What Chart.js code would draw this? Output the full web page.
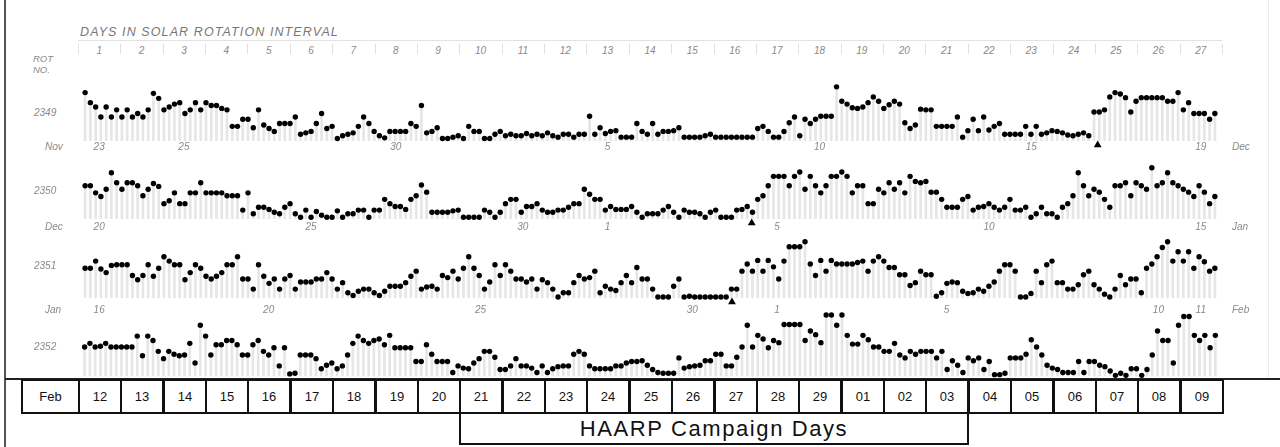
<!DOCTYPE html>
<html>
<head>
<meta charset="utf-8">
<script src="https://cdn.jsdelivr.net/npm/chart.js@4.4.0/dist/chart.umd.min.js"></script>
<style>
  body { margin:0; background:#fff; width:1280px; height:447px; overflow:hidden; position:relative;
         font-family:"Liberation Sans", Arial, sans-serif; }
  .t { position:absolute; font-style:italic; color:#8a8a8a; white-space:nowrap; line-height:1; }
  .ln { position:absolute; }
  .cell { position:absolute; box-sizing:border-box; border:2px solid #111; display:flex;
          align-items:center; justify-content:center; font-size:13px; color:#111; background:#fff; }
  canvas { position:absolute; }
</style>
</head>
<body>
<script>
// rotaciones de Bartels y Kp cada 3 horas (8 por dia, 27 dias)
const rotations = ['2349', '2350', '2351', '2352'];

const kp2349 = [
  6.7, 5.3, 4.7, 3.3, 4.7, 3.3, 4.3, 3.3,
  4.3, 3.3, 3.8, 3.3, 4.3, 6.6, 5.9, 4.3,
  4.7, 5.1, 5.3, 3.8, 4.3, 5.3, 4.3, 5.3,
  4.9, 4.9, 4.5, 4.3, 2.0, 2.0, 3.0, 3.0,
  1.8, 4.3, 2.2, 1.7, 1.3, 2.4, 2.4, 2.4,
  3.3, 0.9, 1.1, 1.3, 2.4, 3.8, 1.7, 2.0,
  0.3, 0.7, 0.9, 1.1, 2.0, 3.3, 2.4, 1.3,
  0.7, 0.4, 1.3, 1.3, 1.3, 1.3, 2.4, 2.0,
  4.9, 1.1, 1.3, 1.8, 0.3, 0.3, 0.5, 0.7,
  0.3, 2.0, 1.3, 1.3, 0.3, 0.3, 0.9, 1.3,
  0.7, 0.9, 0.7, 0.7, 1.0, 0.7, 0.9, 0.7,
  1.1, 0.7, 0.5, 0.9, 0.9, 0.5, 0.9, 0.9,
  3.4, 0.9, 1.8, 1.0, 1.3, 1.4, 0.5, 0.5,
  0.5, 2.4, 1.3, 0.9, 2.4, 0.9, 1.3, 1.3,
  1.4, 1.8, 0.5, 0.5, 0.5, 0.5, 0.7, 0.9,
  0.5, 0.5, 0.5, 0.5, 0.5, 0.5, 0.5, 0.5,
  1.7, 2.0, 1.3, 0.5, 0.5, 1.3, 2.5, 3.3,
  0.7, 3.0, 2.4, 3.0, 3.4, 3.4, 3.4, 7.5,
  5.5, 5.1, 4.6, 4.5, 4.7, 5.3, 6.1, 5.5,
  4.5, 5.0, 5.5, 5.1, 2.5, 1.7, 2.2, 4.4,
  4.3, 4.3, 2.0, 2.0, 2.0, 2.0, 3.3, 0.5,
  1.4, 3.0, 1.4, 3.3, 1.5, 2.0, 2.4, 0.9,
  0.9, 0.9, 0.9, 2.0, 0.9, 2.0, 0.9, 1.1,
  1.4, 1.3, 1.1, 0.8, 0.7, 0.9, 1.1, 0.7,
  4.0, 4.0, 4.3, 6.1, 6.7, 6.5, 6.0, 4.0,
  5.5, 6.0, 6.0, 6.0, 6.0, 6.0, 5.5, 5.5,
  6.7, 4.3, 5.3, 3.8, 3.8, 3.8, 3.0, 3.8,
];

const kp2350 = [
  4.6, 4.6, 3.6, 3.1, 4.1, 6.4, 5.0, 4.1,
  5.0, 5.0, 4.6, 3.2, 4.1, 4.9, 4.5, 2.1,
  2.5, 3.6, 2.1, 2.1, 3.6, 3.6, 5.0, 3.6,
  3.6, 3.6, 3.6, 3.2, 3.2, 3.2, 1.2, 3.6,
  0.7, 1.6, 1.6, 1.3, 0.9, 0.7, 1.6, 2.1,
  0.7, 0.2, 1.2, 0.2, 1.0, 0.5, 0.2, 0.2,
  1.1, 0.2, 0.7, 0.7, 1.2, 1.2, 0.2, 1.2,
  1.2, 2.7, 2.1, 1.7, 1.7, 1.3, 2.7, 3.2,
  4.7, 3.7, 0.9, 0.9, 0.9, 0.9, 1.1, 1.2,
  0.2, 0.2, 0.2, 0.2, 1.2, 0.9, 0.2, 0.9,
  2.1, 2.7, 2.7, 0.9, 1.7, 1.7, 2.1, 1.2,
  0.9, 0.9, 1.2, 1.2, 1.6, 2.1, 2.1, 4.1,
  3.4, 2.7, 2.7, 1.2, 1.7, 1.3, 1.3, 1.3,
  1.7, 0.9, 0.2, 0.7, 0.7, 0.7, 1.2, 1.7,
  0.9, 0.2, 1.2, 0.9, 0.9, 0.7, 0.2, 0.9,
  1.2, 0.2, 0.2, 0.2, 1.2, 1.3, 1.7, 0.9,
  2.7, 3.2, 4.6, 5.9, 5.9, 5.9, 4.6, 5.9,
  6.5, 4.1, 5.9, 4.6, 3.6, 4.6, 5.9, 5.9,
  6.5, 5.9, 3.6, 4.6, 4.6, 2.1, 2.1, 4.1,
  3.6, 5.0, 4.1, 5.0, 3.6, 5.9, 5.2, 5.0,
  5.2, 3.7, 3.7, 2.7, 1.6, 1.6, 1.6, 2.7,
  3.1, 1.2, 1.6, 1.7, 2.1, 1.6, 1.2, 1.6,
  2.7, 1.2, 1.2, 1.6, 0.2, 0.7, 1.6, 0.7,
  0.7, 0.2, 1.6, 2.1, 3.2, 6.4, 4.6, 3.2,
  4.1, 3.7, 2.7, 1.6, 4.6, 4.6, 5.0, 3.2,
  5.0, 4.6, 4.1, 7.1, 4.6, 5.0, 6.4, 5.0,
  4.6, 4.1, 3.7, 3.1, 4.6, 3.7, 2.1, 3.1,
];

const kp2351 = [
  4.1, 4.1, 5.1, 4.0, 3.5, 4.5, 4.6, 4.6,
  4.6, 3.1, 2.5, 3.1, 4.6, 3.0, 4.1, 5.7,
  5.1, 4.6, 4.6, 2.5, 3.5, 4.6, 4.1, 3.0,
  2.6, 3.0, 3.5, 4.6, 4.6, 5.7, 2.6, 2.6,
  1.2, 4.6, 3.0, 2.0, 2.6, 1.2, 2.6, 3.1,
  1.2, 2.2, 2.2, 2.2, 2.6, 2.6, 3.5, 2.6,
  1.2, 2.1, 0.7, 0.3, 0.9, 1.2, 1.2, 0.7,
  0.3, 0.9, 1.6, 1.6, 1.6, 2.1, 3.0, 3.7,
  1.2, 1.5, 1.6, 1.2, 3.1, 2.8, 3.7, 2.6,
  4.1, 5.7, 4.1, 3.1, 1.2, 2.2, 4.6, 3.1,
  4.6, 3.7, 2.6, 2.6, 2.2, 2.6, 1.2, 2.5,
  2.1, 1.2, 0.1, 0.7, 0.7, 2.1, 3.1, 2.6,
  2.8, 3.7, 0.7, 1.6, 1.2, 1.0, 2.1, 3.1,
  2.1, 4.2, 2.6, 2.6, 1.2, 0.1, 0.1, 0.1,
  1.6, 2.6, 0.1, 0.2, 0.1, 0.1, 0.1, 0.1,
  0.1, 0.1, 0.1, 1.2, 1.2, 3.7, 4.7, 3.7,
  5.2, 3.7, 5.2, 4.3, 2.6, 5.1, 7.1, 7.1,
  7.1, 7.8, 4.7, 3.1, 5.2, 3.7, 5.2, 4.7,
  4.7, 4.7, 4.7, 4.9, 5.1, 3.7, 5.1, 5.7,
  5.1, 4.2, 4.2, 3.2, 3.2, 1.7, 2.1, 3.7,
  3.2, 3.2, 0.2, 0.7, 2.0, 2.2, 2.1, 0.9,
  0.6, 0.7, 1.2, 0.9, 1.6, 2.2, 3.7, 4.6,
  4.6, 3.7, 0.1, 0.1, 0.6, 3.7, 2.1, 4.6,
  5.1, 2.1, 2.1, 1.2, 1.2, 1.8, 3.2, 3.7,
  1.8, 1.2, 0.5, 0.1, 1.2, 3.1, 1.8, 2.6,
  2.6, 0.7, 4.1, 4.7, 5.7, 7.0, 7.8, 5.1,
  6.4, 5.1, 6.4, 4.1, 5.7, 5.0, 3.7, 4.1,
];

const kp2352 = [
  4.0, 4.5, 4.0, 4.1, 4.5, 4.0, 4.0, 4.0,
  4.0, 4.0, 5.5, 2.8, 5.5, 4.9, 3.4, 2.4,
  3.4, 3.0, 2.8, 2.9, 4.5, 1.8, 7.0, 5.5,
  2.9, 4.3, 4.3, 4.9, 4.9, 4.3, 2.9, 2.9,
  4.3, 4.9, 3.4, 2.9, 3.9, 1.4, 3.9, 0.3,
  0.4, 2.9, 2.9, 2.9, 2.4, 1.0, 1.5, 1.8,
  1.0, 1.4, 2.9, 4.5, 5.5, 4.9, 4.5, 4.9,
  5.1, 4.3, 5.6, 3.9, 3.9, 3.9, 3.9, 2.0,
  2.0, 4.3, 3.0, 2.0, 2.0, 2.0, 0.5, 1.4,
  1.1, 1.0, 1.8, 2.4, 3.4, 3.4, 2.6, 0.9,
  0.9, 1.4, 2.4, 1.4, 1.4, 1.1, 0.5, 1.4,
  0.5, 1.0, 1.3, 1.4, 1.4, 3.0, 3.4, 3.0,
  1.4, 1.0, 1.0, 1.0, 1.0, 1.4, 1.4, 1.8,
  2.0, 2.0, 2.1, 1.5, 0.9, 0.5, 0.4, 0.4,
  0.4, 2.5, 1.1, 1.3, 1.4, 1.5, 2.1, 2.1,
  3.0, 3.0, 1.4, 1.4, 2.6, 4.0, 7.0, 4.0,
  5.6, 5.1, 3.9, 4.9, 4.6, 7.1, 7.1, 7.1,
  7.1, 4.9, 6.2, 5.7, 4.6, 8.4, 8.4, 7.0,
  8.4, 5.6, 4.4, 4.4, 5.6, 5.0, 4.0, 4.0,
  3.4, 3.4, 4.5, 2.9, 2.5, 3.4, 3.0, 3.4,
  3.4, 3.4, 2.5, 3.4, 0.9, 2.1, 1.5, 0.5,
  2.5, 2.1, 2.5, 0.9, 2.0, 0.2, 0.2, 0.4,
  2.5, 2.5, 2.5, 3.0, 5.0, 4.0, 2.9, 1.5,
  1.1, 0.9, 0.5, 0.5, 0.5, 2.0, 0.5, 2.0,
  2.0, 1.5, 1.3, 0.7, 0.1, 0.4, 0.1, 1.0,
  1.0, 0.1, 0.9, 2.9, 6.2, 4.9, 4.9, 1.8,
  7.0, 8.2, 8.2, 5.6, 4.9, 5.6, 3.9, 5.6,
];

// triangulos (posicion en dias desde el inicio de la rotacion)
const markers = [[24.15], [15.92], [15.45], []];

// etiquetas
const rotationDays = ['1','2','3','4','5','6','7','8','9','10','11','12','13','14','15','16','17','18','19','20','21','22','23','24','25','26','27'];
const dateTicks = [
  [[1,'23'],[3,'25'],[8,'30'],[13,'5'],[18,'10'],[23,'15'],[27,'19']],
  [[1,'20'],[6,'25'],[11,'30'],[13,'1'],[17,'5'],[22,'10'],[27,'15']],
  [[1,'16'],[5,'20'],[10,'25'],[15,'30'],[17,'1'],[21,'5'],[26,'10'],[27,'11']],
  [],
];
const leftMonths = ['Nov', 'Dec', 'Jan', ''];
const rightMonths = ['Dec', 'Jan', 'Feb', ''];
const tableDays = ['12','13','14','15','16','17','18','19','20','21','22','23','24','25','26','27','28','29','01','02','03','04','05','06','07','08','09'];
const campaign = ['21', '03'];

// layout
const X0 = 78, DAYW = 42.37, PXKP = 8;
const BASE = [144, 222, 301, 379];
const ROWLABEL_Y = [113, 191, 266, 347];
const DATE_Y = [147, 227, 310];

function text(str, x, y, size, extra) {
  const d = document.createElement('div');
  d.className = 't';
  d.textContent = str;
  d.style.fontSize = size + 'px';
  d.style.left = x + 'px';
  d.style.top = (y - size / 2) + 'px';
  if (extra) Object.assign(d.style, extra);
  document.body.appendChild(d);
  return d;
}
function centered(str, cx, cy, size) {
  const d = text(str, cx, cy, size);
  d.style.transform = 'translateX(-50%)';
}
function line(x, y, w, h, color) {
  const d = document.createElement('div');
  d.className = 'ln';
  Object.assign(d.style, {left: x + 'px', top: y + 'px', width: w + 'px', height: h + 'px', background: color});
  document.body.appendChild(d);
}

// encabezado
text('DAYS IN SOLAR ROTATION INTERVAL', 80, 32, 12.5, {letterSpacing: '1.1px', color: '#777'});
line(X0, 40, 27 * DAYW, 1, '#e2e2e2');
for (let d = 0; d <= 27; d++) line(Math.round(X0 + d * DAYW), 44, 1, 10, '#e0e0e0');
rotationDays.forEach((t, i) => centered(t, X0 + (i + 0.5) * DAYW, 51, 10));
text('ROT', 33, 59, 9.5);
text('NO.', 33, 70, 9.5);

// filas
function rowChart(i, values) {
  const c = document.createElement('canvas');
  const h = 11 * PXKP;
  c.width = Math.round(27 * DAYW);
  c.height = h;
  c.style.left = X0 + 'px';
  c.style.top = (BASE[i] - 9.5 * PXKP) + 'px';
  document.body.appendChild(c);
  const pts = values.map((v, k) => ({x: (k + 0.5) / 8, y: v}));
  new Chart(c, {
    data: {
      datasets: [
        {type: 'bar', data: pts, backgroundColor: '#e6e6e6', barThickness: 2, order: 3},
        {type: 'scatter', data: pts, pointRadius: 2.7, pointBackgroundColor: '#000',
         pointBorderWidth: 0, clip: false, order: 1},
        {type: 'scatter', data: markers[i].map(x => ({x: x, y: -0.6})), pointStyle: 'triangle',
         pointRadius: 4.5, pointBackgroundColor: '#000', pointBorderWidth: 0, clip: false, order: 0},
      ],
    },
    options: {
      responsive: false, animation: false, events: [],
      layout: {padding: 0},
      plugins: {legend: {display: false}, tooltip: {enabled: false}},
      scales: {
        x: {type: 'linear', min: 0, max: 27, offset: false, display: false},
        y: {type: 'linear', min: -1.5, max: 9.5, display: false},
      },
    },
  });
}

[kp2349, kp2350, kp2351, kp2352].forEach((vals, i) => {
  rowChart(i, vals);
  text(rotations[i], 34, ROWLABEL_Y[i], 10);
  if (leftMonths[i]) text(leftMonths[i], 45, DATE_Y[i], 10);
  if (rightMonths[i]) text(rightMonths[i], 1232, DATE_Y[i], 10);
  dateTicks[i].forEach(([d, t]) => centered(t, X0 + (d - 0.5) * DAYW, DATE_Y[i], 10));
});

// marco y tabla
line(4, 0, 2, 447, '#555');
line(5, 378, 1275, 2, '#222');
line(1268, 0, 1, 378, '#ececec');

function cell(str, x, y, w, h, size) {
  const d = document.createElement('div');
  d.className = 'cell';
  d.textContent = str;
  Object.assign(d.style, {left: x + 'px', top: y + 'px', width: w + 'px', height: h + 'px'});
  if (size) d.style.fontSize = size + 'px';
  document.body.appendChild(d);
  return d;
}
cell('Feb', 21, 379, X0 - 21 + 2, 35);
tableDays.forEach((t, i) => cell(t, Math.round(X0 + i * DAYW), 379, Math.round(DAYW) + 2, 35));
const c0 = tableDays.indexOf(campaign[0]), c1 = tableDays.indexOf(campaign[1]);
const hb = cell('HAARP Campaign Days', Math.round(X0 + c0 * DAYW), 412,
  Math.round((c1 - c0 + 1) * DAYW) + 2, 33, 22);
hb.style.letterSpacing = '1.6px';
</script>
</body>
</html>
